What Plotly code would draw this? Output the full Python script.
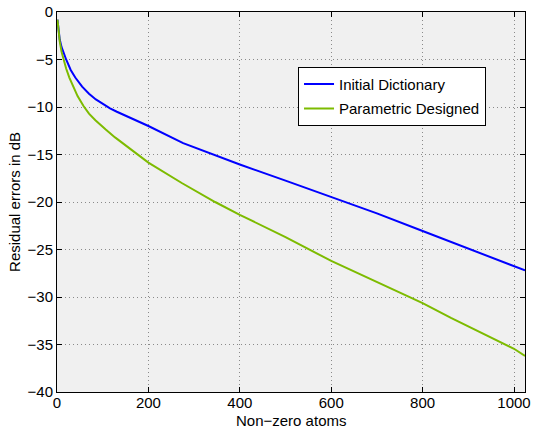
import plotly.graph_objects as go

# Data
x_initial = [1, 3, 6, 10, 15, 20, 30, 40, 55, 70, 85, 100, 116, 131, 171, 200, 276, 400, 500, 600, 700, 800, 900, 1000, 1024]
y_initial = [-0.8, -1.9, -2.9, -3.7, -4.4, -5.0, -6.1, -6.9, -7.85, -8.6, -9.2, -9.7, -10.15, -10.5, -11.35, -12.0, -13.8, -16.05, -17.75, -19.45, -21.2, -23.05, -24.9, -26.75, -27.2]

x_param = [1, 3, 6, 10, 14, 20, 27, 33, 45, 58, 70, 84, 95, 106, 127, 160, 200, 273, 346, 400, 500, 600, 700, 800, 862, 900, 1000, 1024]
y_param = [-0.8, -2.0, -3.1, -4.2, -5.0, -5.95, -6.9, -7.6, -8.85, -9.9, -10.7, -11.4, -11.9, -12.35, -13.2, -14.4, -15.85, -18.0, -20.0, -21.35, -23.7, -26.2, -28.4, -30.65, -32.2, -33.1, -35.45, -36.2]

series_names = ["Initial Dictionary", "Parametric Designed"]
x_ticks = [0, 200, 400, 600, 800, 1000]
y_ticks = [0, -5, -10, -15, -20, -25, -30, -35, -40]
x_title = "Non\u2212zero atoms"
y_title = "Residual errors in dB"

FONT = "Liberation Sans, Arial, Helvetica, sans-serif"
FS = 15

fig = go.Figure()
fig.add_trace(go.Scatter(x=x_initial, y=y_initial, mode="lines", name=series_names[0],
                         legendgroup="a", line=dict(color="#0000FF", width=2)))
fig.add_trace(go.Scatter(x=x_param, y=y_param, mode="lines", name=series_names[1],
                         legendgroup="b", line=dict(color="#7DBB00", width=2)))

axis_common = dict(
    showline=True, linecolor="black", linewidth=1, mirror="ticks",
    ticks="inside", ticklen=5, tickcolor="black",
    showgrid=True, gridcolor="#8a8a8a", griddash="1px,3px", gridwidth=1,
    zeroline=False, automargin=False,
    tickfont=dict(family=FONT, size=FS, color="black"),
)

fig.update_xaxes(range=[0, 1024], tickvals=x_ticks, ticktext=[str(v) for v in x_ticks],
                 ticklabelstandoff=-3, **axis_common)
fig.update_yaxes(range=[-40, 0], tickvals=y_ticks, **axis_common)

fig.add_annotation(text=x_title, xref="paper", yref="paper", x=0.5, y=-0.075,
                   xanchor="center", yanchor="middle", showarrow=False,
                   font=dict(family=FONT, size=FS, color="black"))
fig.add_annotation(text=y_title, xref="paper", yref="paper", x=-0.092, y=0.5,
                   xanchor="center", yanchor="middle", showarrow=False, textangle=-90,
                   font=dict(family=FONT, size=FS, color="black"))

fig.update_layout(
    width=533, height=428,
    margin=dict(l=57, r=8, t=12, b=36),
    paper_bgcolor="white", plot_bgcolor="#F0F0F0",
    font=dict(family=FONT, size=FS, color="black"),
    legend=dict(x=0.515, y=0.856, xanchor="left", yanchor="top",
                bgcolor="white", bordercolor="black", borderwidth=1,
                font=dict(family=FONT, size=FS, color="black"), itemwidth=30,
                traceorder="grouped", tracegroupgap=2),
    showlegend=True,
)

fig.write_html("out.html", config={"displayModeBar": False},
               post_script="document.body.style.margin='0px';document.body.style.padding='0px';")
